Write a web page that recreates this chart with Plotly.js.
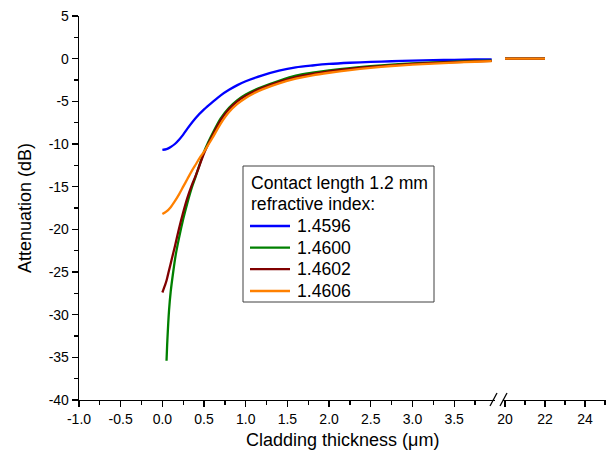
<!DOCTYPE html>
<html>
<head>
<meta charset="utf-8">
<script src="https://cdn.plot.ly/plotly-3.0.1.min.js"></script>
<style>html,body{margin:0;padding:0;background:#fff;}#chart{width:606px;height:458px;}</style>
</head>
<body>
<div id="chart"></div>
<script>
// ---- data ----
const seriesNames = ["1.4596", "1.4600", "1.4602", "1.4606"];
const seriesColors = ["#0000ff", "#008000", "#800000", "#ff8000"];

const xBlue = [0, 0.05, 0.1, 0.15, 0.2, 0.25, 0.3, 0.4, 0.5, 0.6, 0.7, 0.8, 0.9, 1.0, 1.2, 1.4, 1.6, 1.8, 2.0, 2.25, 2.5, 2.75, 3.0, 3.25, 3.5, 3.75, 3.95];
const yBlue = [-10.7, -10.6, -10.35, -10.0, -9.5, -8.9, -8.2, -6.95, -5.95, -5.1, -4.3, -3.65, -3.1, -2.65, -1.95, -1.4, -1.02, -0.8, -0.62, -0.48, -0.38, -0.3, -0.24, -0.18, -0.13, -0.1, -0.08];

const xGreen = [0.05, 0.06, 0.08, 0.1, 0.13, 0.16, 0.2, 0.25, 0.3, 0.35, 0.4, 0.5, 0.55, 0.6, 0.7, 0.8, 0.9, 1.0, 1.1, 1.2, 1.4, 1.6, 1.8, 2.0, 2.25, 2.5, 2.75, 3.0, 3.25, 3.5, 3.75, 3.95];
const yGreen = [-35.4, -33.0, -29.5, -27.3, -25.0, -23.0, -21.0, -18.8, -16.9, -15.2, -13.8, -10.9, -9.8, -8.8, -7.0, -5.75, -4.85, -4.2, -3.7, -3.3, -2.6, -2.0, -1.65, -1.38, -1.1, -0.88, -0.7, -0.56, -0.45, -0.35, -0.27, -0.22];

const xRed = [0, 0.03, 0.05, 0.08, 0.11, 0.15, 0.2, 0.25, 0.3, 0.35, 0.4, 0.5, 0.55, 0.6, 0.7, 0.8, 0.9, 1.0, 1.1, 1.2, 1.4, 1.6, 1.8, 2.0, 2.25, 2.5, 2.75, 3.0, 3.25, 3.5, 3.75, 3.95];
const yRed = [-27.4, -26.6, -26.0, -24.8, -23.6, -22.0, -19.9, -18.0, -16.3, -14.9, -13.7, -11.1, -10.0, -9.0, -7.2, -5.9, -5.0, -4.35, -3.85, -3.42, -2.72, -2.15, -1.78, -1.5, -1.2, -0.97, -0.78, -0.62, -0.5, -0.4, -0.32, -0.26];

const xOrange = [0, 0.05, 0.1, 0.15, 0.2, 0.25, 0.3, 0.35, 0.4, 0.45, 0.5, 0.55, 0.6, 0.7, 0.8, 0.9, 1.0, 1.1, 1.2, 1.4, 1.6, 1.8, 2.0, 2.25, 2.5, 2.75, 3.0, 3.25, 3.5, 3.75, 3.95];
const yOrange = [-18.2, -17.9, -17.4, -16.7, -15.9, -15.0, -14.1, -13.2, -12.4, -11.6, -10.9, -10.1, -9.3, -7.6, -6.25, -5.3, -4.6, -4.05, -3.6, -2.9, -2.35, -1.95, -1.65, -1.33, -1.07, -0.86, -0.7, -0.57, -0.46, -0.36, -0.29];

const xFar = [20, 21, 22];
const yFarBlue = [0, 0, 0];
const yFarGreen = [0, 0, 0];
const yFarRed = [0, 0, 0];
const yFarOrange = [0, 0, 0];

const yTickVals = [5, 0, -5, -10, -15, -20, -25, -30, -35, -40];
const yTickText = ["5", "0", "-5", "-10", "-15", "-20", "-25", "-30", "-35", "-40"];
const xTickVals = [-1.0, -0.5, 0.0, 0.5, 1.0, 1.5, 2.0, 2.5, 3.0, 3.5];
const xTickText = ["-1.0", "-0.5", "0.0", "0.5", "1.0", "1.5", "2.0", "2.5", "3.0", "3.5"];
const x2TickVals = [20, 22, 24];
const x2TickText = ["20", "22", "24"];

const legendTitleLines = ["Contact length 1.2 mm", "refractive index:"];
const xTitle = "Cladding thickness (\u03bcm)";
const yTitle = "Attenuation (dB)";

// ---- traces ----
const nearX = [xBlue, xGreen, xRed, xOrange];
const nearY = [yBlue, yGreen, yRed, yOrange];
const farY = [yFarBlue, yFarGreen, yFarRed, yFarOrange];
const FONT = "Arial, 'Liberation Sans', sans-serif";
const LW = 2.3;

const traces = [];
for (let i = 0; i < 4; i++) {
  traces.push({
    x: nearX[i], y: nearY[i], xaxis: "x", yaxis: "y",
    type: "scatter", mode: "lines", name: seriesNames[i],
    line: {color: seriesColors[i], width: LW, shape: "spline", smoothing: 0.8},
    showlegend: false
  });
}
for (let i = 0; i < 4; i++) {
  traces.push({
    x: xFar, y: farY[i], xaxis: "x2", yaxis: "y",
    type: "scatter", mode: "lines", name: seriesNames[i],
    line: {color: seriesColors[i], width: LW},
    showlegend: false
  });
}

// plot area geometry (paper fractions)
const W = 606, H = 458, ML = 79, MR = 0, MT = 16, MB = 58;
const PW = W - ML - MR, PH = H - MT - MB;
const px = v => (v - ML) / PW;
const py = v => (H - MB - v) / PH;

const axisCommon = {
  showgrid: false, zeroline: false, showline: true, linecolor: "#000", linewidth: 1.3,
  ticks: "outside", ticklen: 6, tickwidth: 1.3, tickcolor: "#000",
  tickfont: {family: FONT, size: 14, color: "#000"}, mirror: false
};

// ---- legend box (drawn by hand to match spacing) ----
const legendBox = {x0: 243, x1: 434, y0: 166, y1: 302};
const legendTitleY = [183, 203.5];
const legendRowY = [226, 247.7, 269.2, 291];
const legendFont = {family: FONT, size: 17.6, color: "#000"};

const annotations = [{
  text: xTitle, xref: "paper", yref: "paper", x: px(342), y: py(440),
  xanchor: "center", yanchor: "middle", showarrow: false,
  font: {family: FONT, size: 18, color: "#000"}
}, {
  text: yTitle, xref: "paper", yref: "paper", x: px(25), y: py(208),
  xanchor: "center", yanchor: "middle", showarrow: false, textangle: -90,
  font: {family: FONT, size: 18, color: "#000"}
}];
legendTitleLines.forEach((t, k) => annotations.push({
  text: t, xref: "paper", yref: "paper", x: px(249), y: py(legendTitleY[k]),
  xanchor: "left", yanchor: "middle", showarrow: false, font: legendFont
}));
seriesNames.forEach((t, k) => annotations.push({
  text: t, xref: "paper", yref: "paper", x: px(295), y: py(legendRowY[k]),
  xanchor: "left", yanchor: "middle", showarrow: false, font: legendFont
}));

const shapes = [
  {type: "rect", xref: "paper", yref: "paper", x0: px(legendBox.x0), x1: px(legendBox.x1), y0: py(legendBox.y0), y1: py(legendBox.y1), line: {color: "#404040", width: 1}, fillcolor: "#fff", layer: "above"},
  {type: "line", xref: "paper", yref: "paper", x0: px(490), y0: py(406), x1: px(497), y1: py(393), line: {color: "#000", width: 1.3}},
  {type: "line", xref: "paper", yref: "paper", x0: px(500), y0: py(406), x1: px(507), y1: py(393), line: {color: "#000", width: 1.3}}
];
seriesColors.forEach((c, k) => shapes.push({
  type: "line", xref: "paper", yref: "paper", x0: px(250), x1: px(290), y0: py(legendRowY[k]), y1: py(legendRowY[k]),
  line: {color: c, width: LW}, layer: "above"
}));

const layout = {
  width: W, height: H,
  margin: {l: ML, r: MR, t: MT, b: MB, pad: 0},
  paper_bgcolor: "#fff", plot_bgcolor: "#fff",
  font: {family: FONT, color: "#000"},
  showlegend: false,
  xaxis: Object.assign({}, axisCommon, {
    domain: [0, px(495)], range: [-1, 3.99], anchor: "y",
    tickmode: "array", tickvals: xTickVals, ticktext: xTickText,
    minor: {dtick: 0.25, tick0: -1, ticks: "outside", ticklen: 3.5, tickwidth: 1.3, tickcolor: "#000", showgrid: false}
  }),
  xaxis2: Object.assign({}, axisCommon, {
    domain: [px(503), 1], range: [19.9, 25.05], anchor: "y",
    tickmode: "array", tickvals: x2TickVals, ticktext: x2TickText,
    minor: {dtick: 1, tick0: 20, ticks: "outside", ticklen: 3.5, tickwidth: 1.3, tickcolor: "#000", showgrid: false}
  }),
  yaxis: Object.assign({}, axisCommon, {
    range: [-40, 5], anchor: "x",
    tickmode: "array", tickvals: yTickVals, ticktext: yTickText,
    minor: {dtick: 2.5, tick0: 0, ticks: "outside", ticklen: 3.5, tickwidth: 1.3, tickcolor: "#000", showgrid: false}
  }),
  annotations: annotations,
  shapes: shapes
};

Plotly.newPlot("chart", traces, layout, {staticPlot: true, displayModeBar: false});
</script>
</body>
</html>
